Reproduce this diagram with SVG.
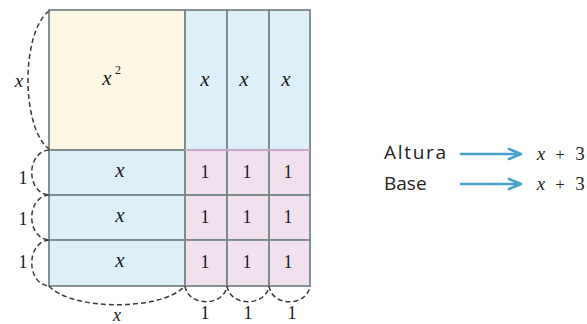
<svg xmlns="http://www.w3.org/2000/svg" width="587" height="324" viewBox="0 0 587 324">
  <defs>
    <style>
      .cell { stroke: #7b8787; stroke-width: 1.8; }
      .sq { fill: #fdf8e4; }
      .bl { fill: #ddeff9; }
      .pk { fill: #f1e1ee; }
      .brace { fill: none; stroke: #3a3a3a; stroke-width: 1.5; stroke-dasharray: 5 3; }
      .arr { fill: none; stroke: #47a2c9; stroke-width: 2.6; stroke-linecap: round; stroke-linejoin: round; }
    </style>
  </defs>
  <rect width="587" height="324" fill="#ffffff"/>

  <g font-family="Liberation Serif, serif" fill="#1a1a1a" text-anchor="middle">
  <g id="tile-x2">
    <rect class="cell sq" x="49" y="10" width="136" height="140"/>
    <text x="107" y="85" font-style="italic" font-size="21">x</text>
    <text x="118" y="74" font-size="12">2</text>
  </g>
  <g id="tile-col1"><rect class="cell bl" x="185" y="10" width="42" height="140"/><text x="205" y="86" font-style="italic" font-size="21">x</text></g>
  <g id="tile-col2"><rect class="cell bl" x="227" y="10" width="42" height="140"/><text x="244" y="86" font-style="italic" font-size="21">x</text></g>
  <g id="tile-col3"><rect class="cell bl" x="269" y="10" width="41" height="140"/><text x="286" y="86" font-style="italic" font-size="21">x</text></g>

  <g id="tile-row1"><rect class="cell bl" x="49" y="150" width="136" height="45"/><text x="120" y="177" font-style="italic" font-size="21">x</text></g>
  <g id="tile-row2"><rect class="cell bl" x="49" y="195" width="136" height="45"/><text x="120" y="222" font-style="italic" font-size="21">x</text></g>
  <g id="tile-row3"><rect class="cell bl" x="49" y="240" width="136" height="46"/><text x="120" y="267" font-style="italic" font-size="21">x</text></g>

  <g id="unit-11"><rect class="cell pk" x="185" y="150" width="42" height="45"/><text x="205" y="178" font-size="18">1</text></g>
  <g id="unit-12"><rect class="cell pk" x="227" y="150" width="42" height="45"/><text x="247" y="178" font-size="18">1</text></g>
  <g id="unit-13"><rect class="cell pk" x="269" y="150" width="41" height="45"/><text x="288" y="178" font-size="18">1</text></g>
  <g id="unit-21"><rect class="cell pk" x="185" y="195" width="42" height="45"/><text x="205" y="223" font-size="18">1</text></g>
  <g id="unit-22"><rect class="cell pk" x="227" y="195" width="42" height="45"/><text x="247" y="223" font-size="18">1</text></g>
  <g id="unit-23"><rect class="cell pk" x="269" y="195" width="41" height="45"/><text x="288" y="223" font-size="18">1</text></g>
  <g id="unit-31"><rect class="cell pk" x="185" y="240" width="42" height="46"/><text x="205" y="268" font-size="18">1</text></g>
  <g id="unit-32"><rect class="cell pk" x="227" y="240" width="42" height="46"/><text x="247" y="268" font-size="18">1</text></g>
  <g id="unit-33"><rect class="cell pk" x="269" y="240" width="41" height="46"/><text x="288" y="268" font-size="18">1</text></g>
  </g>
  <line x1="185" y1="150" x2="310" y2="150" stroke="#c9a7cc" stroke-width="1.8"/>

  <g id="connectors">
    <path class="brace" d="M49,11 C21,32 21,128 49,149"/>
    <path class="brace" d="M49,150 C26,152 26,193 49,195"/>
    <path class="brace" d="M49,195 C26,197 26,238 49,240"/>
    <path class="brace" d="M49,240 C26,242 26,284 49,286"/>
    <path class="brace" d="M49,286 C72,311 162,311 185,286"/>
    <path class="brace" d="M185,286 C188,307 224,307 227,286"/>
    <path class="brace" d="M227,286 C230,307 266,307 269,286"/>
    <path class="brace" d="M269,286 C272,307 307,307 310,286"/>
    <path class="arr" d="M461,154 L521,154 M509,149 L521,154 L509,159"/>
    <path class="arr" d="M461,184 L521,184 M509,179 L521,184 L509,189"/>
  </g>

  <g id="dim-labels" font-family="Liberation Serif, serif" fill="#1a1a1a" text-anchor="middle" font-size="18">
    <text x="19" y="87" font-style="italic" font-size="19">x</text>
    <text x="23" y="184">1</text>
    <text x="23" y="225">1</text>
    <text x="23" y="268">1</text>
    <text x="117" y="321" font-style="italic">x</text>
    <text x="205" y="319">1</text>
    <text x="248" y="319">1</text>
    <text x="292" y="319">1</text>
  </g>

  <g id="legend-altura" fill="#222">
    <text x="384" y="159" font-family="Open Sans, Noto Sans, sans-serif" font-size="19" textLength="62" lengthAdjust="spacing">Altura</text>
    <g font-family="Liberation Serif, serif" text-anchor="middle">
      <text x="541" y="160" font-style="italic" font-size="19">x</text>
      <text x="560" y="160" font-size="17">+</text>
      <text x="580" y="160" font-size="19">3</text>
    </g>
  </g>
  <g id="legend-base" fill="#222">
    <text x="384" y="190" font-family="Open Sans, Noto Sans, sans-serif" font-size="19">Base</text>
    <g font-family="Liberation Serif, serif" text-anchor="middle">
      <text x="541" y="190" font-style="italic" font-size="19">x</text>
      <text x="560" y="190" font-size="17">+</text>
      <text x="580" y="190" font-size="19">3</text>
    </g>
  </g>
</svg>
